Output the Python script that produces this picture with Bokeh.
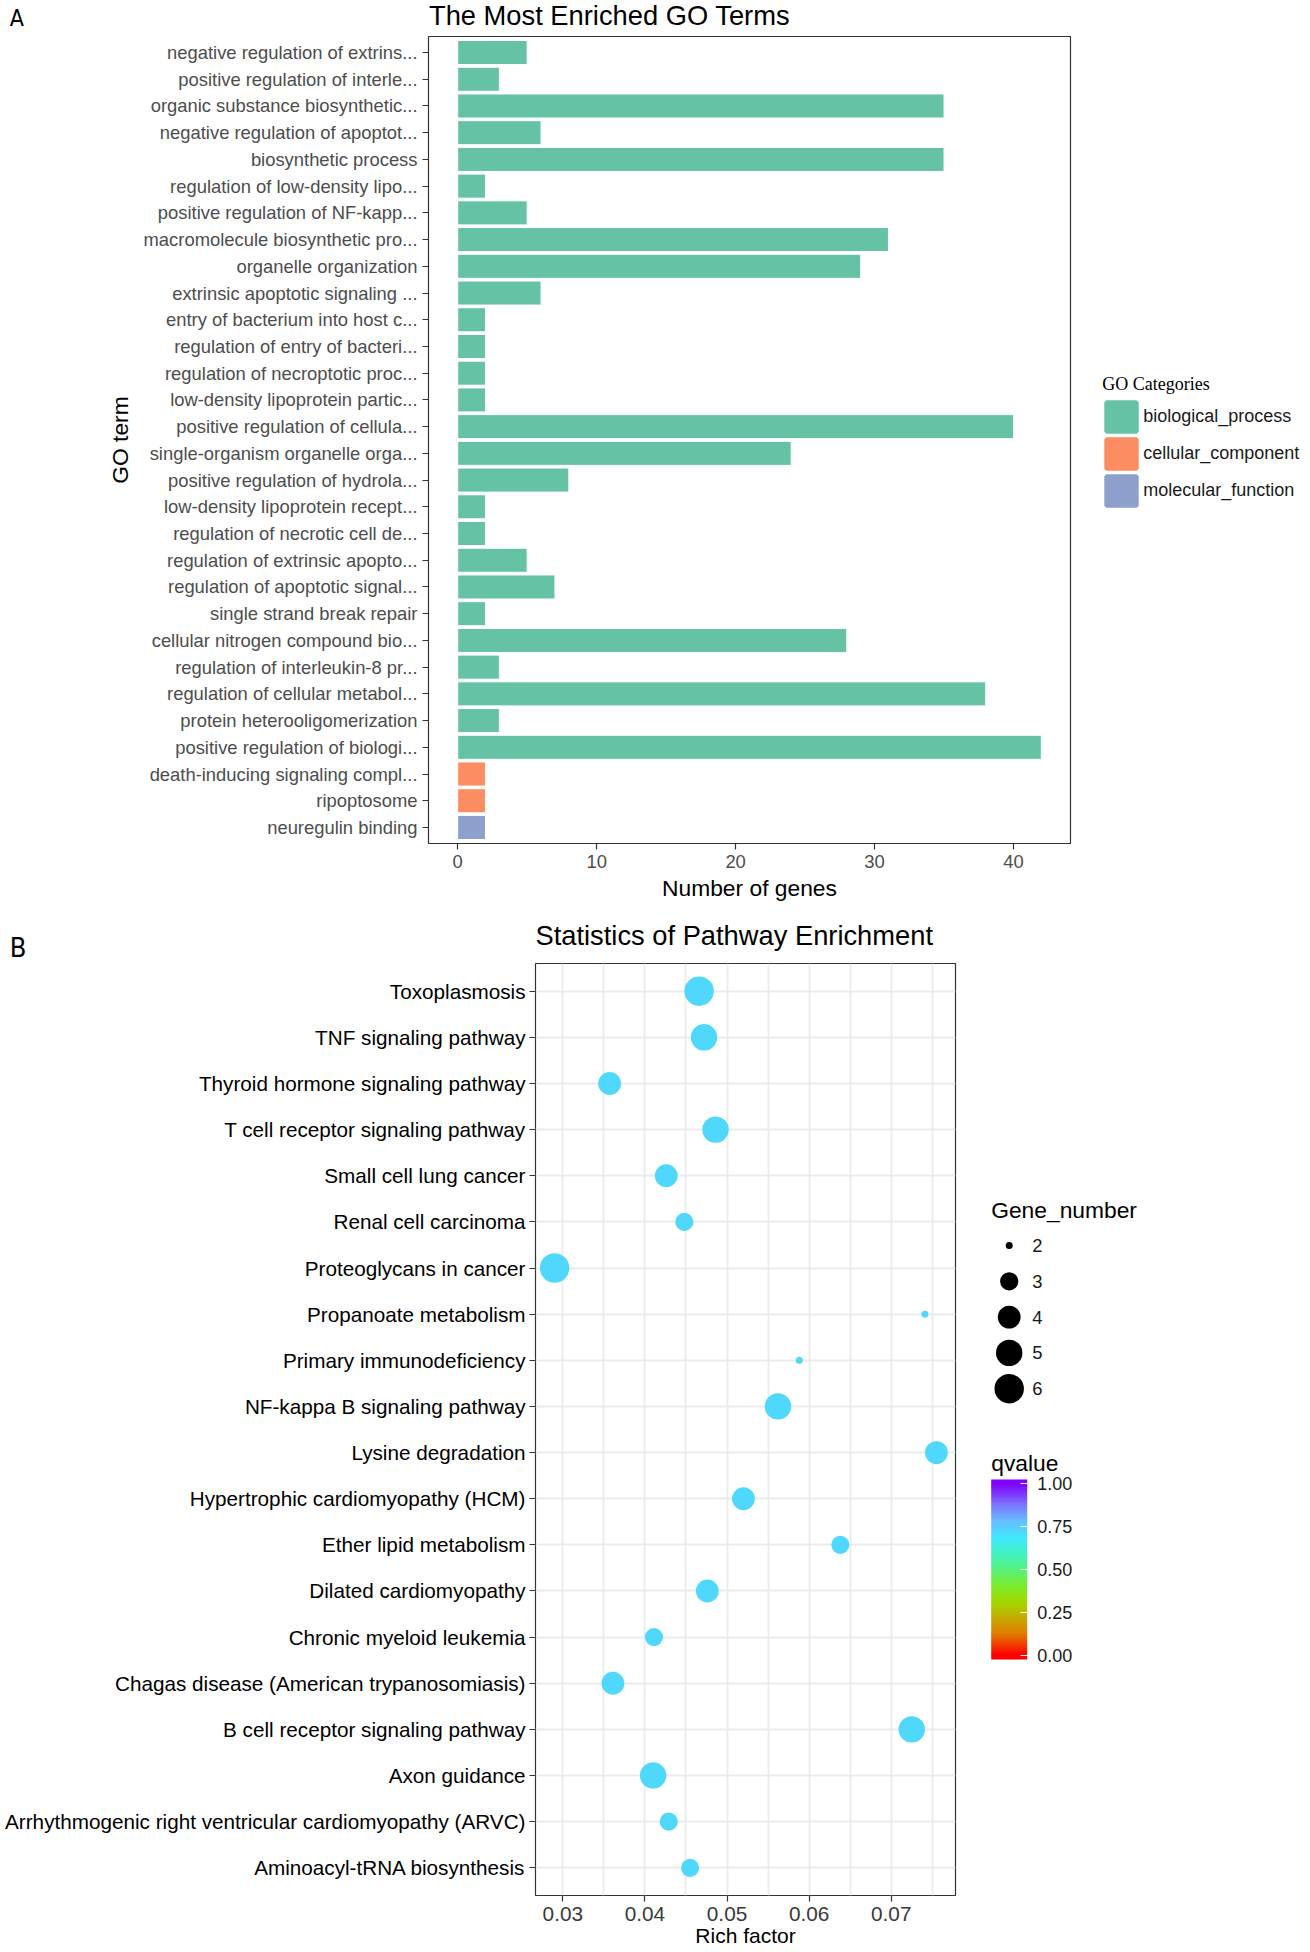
import numpy as np
from bokeh.plotting import figure
from bokeh.layouts import column, row
from bokeh.models import (Range1d, FixedTicker, ColumnDataSource, Legend, LegendItem,
                          LinearColorMapper, ColorBar, PrintfTickFormatter)
from bokeh.transform import factor_cmap, transform
from bokeh.core.properties import value
from bokeh.embed import file_html
from bokeh.resources import INLINE

# ---------------- Panel A data ----------------
go_terms = [
    "negative regulation of extrins...", "positive regulation of interle...",
    "organic substance biosynthetic...", "negative regulation of apoptot...",
    "biosynthetic process", "regulation of low-density lipo...",
    "positive regulation of NF-kapp...", "macromolecule biosynthetic pro...",
    "organelle organization", "extrinsic apoptotic signaling ...",
    "entry of bacterium into host c...", "regulation of entry of bacteri...",
    "regulation of necroptotic proc...", "low-density lipoprotein partic...",
    "positive regulation of cellula...", "single-organism organelle orga...",
    "positive regulation of hydrola...", "low-density lipoprotein recept...",
    "regulation of necrotic cell de...", "regulation of extrinsic apopto...",
    "regulation of apoptotic signal...", "single strand break repair",
    "cellular nitrogen compound bio...", "regulation of interleukin-8 pr...",
    "regulation of cellular metabol...", "protein heterooligomerization",
    "positive regulation of biologi...", "death-inducing signaling compl...",
    "ripoptosome", "neuregulin binding",
]
go_counts = [5, 3, 35, 6, 35, 2, 5, 31, 29, 6, 2, 2, 2, 2, 40, 24, 8, 2, 2, 5,
             7, 2, 28, 3, 38, 3, 42, 2, 2, 2]
go_cats = ["biological_process"] * 27 + ["cellular_component"] * 2 + ["molecular_function"]
cat_names = ["biological_process", "cellular_component", "molecular_function"]
cat_colors = ["#66C2A5", "#FC8D62", "#8DA0CB"]
a_xticks = [0, 10, 20, 30, 40]

# ---------------- Panel B data ----------------
pathways = [
    "Toxoplasmosis", "TNF signaling pathway", "Thyroid hormone signaling pathway",
    "T cell receptor signaling pathway", "Small cell lung cancer", "Renal cell carcinoma",
    "Proteoglycans in cancer", "Propanoate metabolism", "Primary immunodeficiency",
    "NF-kappa B signaling pathway", "Lysine degradation",
    "Hypertrophic cardiomyopathy (HCM)", "Ether lipid metabolism",
    "Dilated cardiomyopathy", "Chronic myeloid leukemia",
    "Chagas disease (American trypanosomiasis)", "B cell receptor signaling pathway",
    "Axon guidance", "Arrhythmogenic right ventricular cardiomyopathy (ARVC)",
    "Aminoacyl-tRNA biosynthesis",
]
rich_factor = [0.0466, 0.0472, 0.0357, 0.0486, 0.0426, 0.0448, 0.0290, 0.0741, 0.0588,
               0.0562, 0.0755, 0.0520, 0.0638, 0.0476, 0.0411, 0.0361, 0.0725, 0.0410,
               0.0429, 0.0455]
gene_number = [6, 5, 4, 5, 4, 3, 6, 2, 2, 5, 4, 4, 3, 4, 3, 4, 5, 5, 3, 3]
qvalue = [0.72] * 20
b_xticks = [0.03, 0.04, 0.05, 0.06, 0.07]
b_xminor = [0.035, 0.045, 0.055, 0.065, 0.075]
size_legend_values = [2, 3, 4, 5, 6]
q_ticks = [0.0, 0.25, 0.5, 0.75, 1.0]

title_a = "The Most Enriched GO Terms"
title_b = "Statistics of Pathway Enrichment"

# ---------------- styles ----------------
SANS = "Liberation Sans"
SERIF = "Liberation Serif"
NARROW = "Liberation Sans Narrow, DejaVu Sans Condensed, Liberation Sans"
BORDER = "#333333"
W = 1310

q_stops = [(0.00, "#FF0000"), (0.06, "#F23C00"), (0.12, "#DE7A00"), (0.21, "#C8A800"),
           (0.31, "#A2D800"), (0.40, "#7CEC2A"), (0.50, "#58F27A"), (0.59, "#42F2C0"),
           (0.68, "#3EEAFA"), (0.78, "#66BFFF"), (0.88, "#7C74FF"), (1.00, "#8000FF")]


def _rgb(h):
    return [int(h[i:i + 2], 16) for i in (1, 3, 5)]


def make_palette(lo, hi, n=256):
    pos = [s[0] for s in q_stops]
    cols = np.array([_rgb(s[1]) for s in q_stops], dtype=float)
    out = []
    for t in np.linspace(lo, hi, n):
        t = min(max(t, 0.0), 1.0)
        rgb = [np.interp(t, pos, cols[:, k]) for k in range(3)]
        out.append("#%02X%02X%02X" % tuple(int(round(c)) for c in rgb))
    return out


def diam(v, vmin, vmax, dmin=7.0, dmax=29.4):
    return dmin + (dmax - dmin) * np.sqrt((v - vmin) / (vmax - vmin))


def mid(baseline, size):
    # vertical centre of the text line box for a given baseline
    return baseline - 0.3465 * size


def blank(width, height, yr_top, yr_bottom, **kw):
    p = figure(width=width, height=height, output_backend="svg", toolbar_location=None,
               x_range=Range1d(0, width), y_range=Range1d(yr_bottom, yr_top),
               x_axis_location=None, y_axis_location=None,
               outline_line_color=None, title=None, **kw)
    p.grid.visible = False
    return p


def style_axis(ax, lab_size, lab_color, title_size):
    ax.axis_line_color = None
    ax.major_tick_line_color = BORDER
    ax.major_tick_line_width = 1.2
    ax.major_tick_out = 6
    ax.major_tick_in = 0
    ax.minor_tick_line_color = None
    ax.major_label_text_font = SANS
    ax.major_label_text_font_size = lab_size
    ax.major_label_text_color = lab_color
    ax.axis_label_text_font = SANS
    ax.axis_label_text_font_size = title_size
    ax.axis_label_text_font_style = "normal"
    ax.axis_label_text_color = "black"


# ================= Header A (letter + title) =================
HDR_A = 35
hA = blank(W, HDR_A, 0, HDR_A, min_border=0)
hA.text(x=[9.3], y=[mid(25, 23)], text=["A"], text_font=value(NARROW),
        text_font_size=value("23px"), text_color="black", text_baseline="middle")
hA.text(x=[428.5], y=[mid(24, 27.3)], text=[title_a], text_font=value(SANS),
        text_font_size=value("27.3px"), text_color="black", text_baseline="middle")

# ================= Figure A =================
A_W, A_H = 1085, 870
A_L, A_R, A_T, A_B = 428, 15, 1, 62
n_a = len(go_terms)
ya = [n_a - 1 - i for i in range(n_a)]
span_a = max(go_counts)
srcA = ColumnDataSource(dict(y=ya, count=go_counts, cat=go_cats))

pA = figure(width=A_W, height=A_H, output_backend="svg", toolbar_location=None,
            title=None,
            x_range=Range1d(-0.05 * span_a, span_a * 1.05),
            y_range=Range1d(-0.6, n_a - 1 + 0.6),
            min_border_left=A_L, min_border_right=A_R,
            min_border_top=A_T, min_border_bottom=A_B)
pA.hbar(y="y", left=0, right="count", height=0.9, source=srcA,
        fill_color=factor_cmap("cat", cat_colors, cat_names),
        line_color="white", line_width=1)
pA.grid.visible = False
pA.outline_line_color = BORDER
pA.outline_line_width = 1.2
pA.xaxis.ticker = FixedTicker(ticks=a_xticks)
pA.yaxis.ticker = FixedTicker(ticks=ya)
pA.yaxis.major_label_overrides = {y: t for y, t in zip(ya, go_terms)}
style_axis(pA.xaxis[0], "18.4px", "#4D4D4D", "22.8px")
style_axis(pA.yaxis[0], "18.4px", "#4D4D4D", "22.8px")
pA.xaxis.axis_label = "Number of genes"
pA.xaxis.major_label_standoff = 5
pA.xaxis.axis_label_standoff = 4
pA.yaxis.axis_label = "GO term"
pA.yaxis.major_label_standoff = 5
pA.yaxis.axis_label_standoff = 8

# ---- legend A (own panel to the right) ----
LA_W = W - A_W
lA = figure(width=LA_W, height=A_H, output_backend="svg", toolbar_location=None,
            title=None, x_range=Range1d(0, 1), y_range=Range1d(0, 1),
            x_axis_location=None, y_axis_location=None, outline_line_color=None,
            min_border_left=0, min_border_right=0,
            min_border_top=A_T, min_border_bottom=A_B)
lA.grid.visible = False
items = []
nan = float("nan")
for name, col in zip(cat_names, cat_colors):
    # undrawable stand-in (NaN) so that the legend has a glyph style to draw from
    r = lA.hbar(y=[nan], right=[nan], left=[nan], height=0.9, fill_color=col,
                line_color=col, line_width=4)
    items.append(LegendItem(label=name, renderers=[r]))
legA = Legend(items=items, location=(17.2, 334.2),
              title="GO Categories", title_text_font=SERIF, title_text_font_size="18px",
              title_text_font_style="normal", title_text_color="black", title_standoff=3,
              label_text_font=SANS, label_text_font_size="18px", label_text_color="#1A1A1A",
              glyph_width=38, glyph_height=37, label_height=37, spacing=0,
              label_standoff=3, padding=0, margin=0,
              border_line_color=None, background_fill_alpha=0)
lA.add_layout(legA, "center")

# ================= Header B =================
HDR_B = 57
hB = blank(W, HDR_B, 0, HDR_B, min_border=0)
hB.text(x=[9.3], y=[41.5], text=["B"], text_font=value(NARROW),
        text_font_size=value("27px"), text_color="black", text_baseline="middle")
hB.text(x=[535], y=[mid(39, 27.3)], text=[title_b], text_font=value(SANS),
        text_font_size=value("27.3px"), text_color="black", text_baseline="middle")

# ================= Figure B =================
B_W, B_H = 960, 990
B_L, B_R, B_T, B_B = 535, 5, 1, 57
n_b = len(pathways)
yb = [n_b - 1 - i for i in range(n_b)]
rmin, rmax = min(rich_factor), max(rich_factor)
rspan = rmax - rmin
gmin, gmax = min(gene_number), max(gene_number)

mapper = LinearColorMapper(palette=make_palette(0.0, 1.0), low=0.0, high=1.0)
srcB = ColumnDataSource(dict(x=rich_factor, y=yb, q=qvalue,
                             s=[diam(g, gmin, gmax) for g in gene_number]))

pB = figure(width=B_W, height=B_H, output_backend="svg", toolbar_location=None,
            title=None,
            x_range=Range1d(rmin - 0.05 * rspan, rmax + 0.05 * rspan),
            y_range=Range1d(-0.6, n_b - 1 + 0.6),
            min_border_left=B_L, min_border_right=B_R,
            min_border_top=B_T, min_border_bottom=B_B)
pB.scatter(x="x", y="y", size="s", source=srcB,
           fill_color=transform("q", mapper), line_color=None)
pB.outline_line_color = BORDER
pB.outline_line_width = 1.2
pB.xaxis.ticker = FixedTicker(ticks=b_xticks, minor_ticks=b_xminor)
pB.yaxis.ticker = FixedTicker(ticks=yb)
pB.yaxis.major_label_overrides = {y: t for y, t in zip(yb, pathways)}
pB.xgrid.grid_line_color = "#EBEBEB"
pB.xgrid.grid_line_width = 1.8
pB.xgrid.minor_grid_line_color = "#EBEBEB"
pB.xgrid.minor_grid_line_width = 1.8
pB.ygrid.grid_line_color = "#EBEBEB"
pB.ygrid.grid_line_width = 1.8
style_axis(pB.xaxis[0], "20.8px", "#3A3A3A", "21px")
style_axis(pB.yaxis[0], "20.7px", "black", "21px")
pB.xaxis.major_label_standoff = 5
pB.xaxis.axis_label = "Rich factor"
pB.xaxis.axis_label_standoff = 0
pB.yaxis.major_label_standoff = 4

# ---- legends B (own panel to the right) ----
LB_W = W - B_W
fb_bottom = B_H - B_B
lB = figure(width=LB_W, height=B_H, output_backend="svg", toolbar_location=None,
            title=None, x_range=Range1d(0, LB_W), y_range=Range1d(fb_bottom, B_T),
            x_axis_location=None, y_axis_location=None, outline_line_color=None,
            min_border_left=0, min_border_right=0,
            min_border_top=B_T, min_border_bottom=B_B)
lB.grid.visible = False

lx0 = 30.7
size_y0, size_pitch = 283.0, 35.8
size_y = [size_y0 + i * size_pitch for i in range(len(size_legend_values))]
lB.text(x=[lx0], y=[mid(255.3, 22.8)], text=["Gene_number"], text_font=value(SANS),
        text_font_size=value("22.8px"), text_color="black", text_baseline="middle")
lB.scatter(x=[lx0 + 18] * len(size_legend_values), y=size_y,
           size=[diam(v, gmin, gmax) for v in size_legend_values],
           fill_color="black", line_color=None)
lB.text(x=[lx0 + 41] * len(size_legend_values), y=size_y,
        text=[str(v) for v in size_legend_values], text_font=value(SANS),
        text_font_size=value("18.4px"), text_color="#1A1A1A", text_baseline="middle")
lB.text(x=[lx0], y=[mid(508.7, 22.8)], text=["qvalue"], text_font=value(SANS),
        text_font_size=value("22.8px"), text_color="black", text_baseline="middle")

cb_mapper = LinearColorMapper(palette=make_palette(-0.025, 1.025), low=-0.025, high=1.025)
cbar = ColorBar(color_mapper=cb_mapper, ticker=FixedTicker(ticks=q_ticks),
                formatter=PrintfTickFormatter(format="%.2f"),
                width=36, height=180, location=(lx0, 236),
                padding=0, margin=0, title=None,
                major_tick_line_color="white", major_tick_line_width=1.2,
                major_tick_in=7, major_tick_out=0, minor_tick_line_color=None,
                label_standoff=10, bar_line_color=None, border_line_color=None,
                background_fill_color=None,
                major_label_text_font=SANS, major_label_text_font_size="18px",
                major_label_text_color="#1A1A1A")
lB.add_layout(cbar, "center")

layout = column(hA, row(pA, lA), hB, row(pB, lB))
with open("out.html", "w") as f:
    f.write(file_html(layout, INLINE))
